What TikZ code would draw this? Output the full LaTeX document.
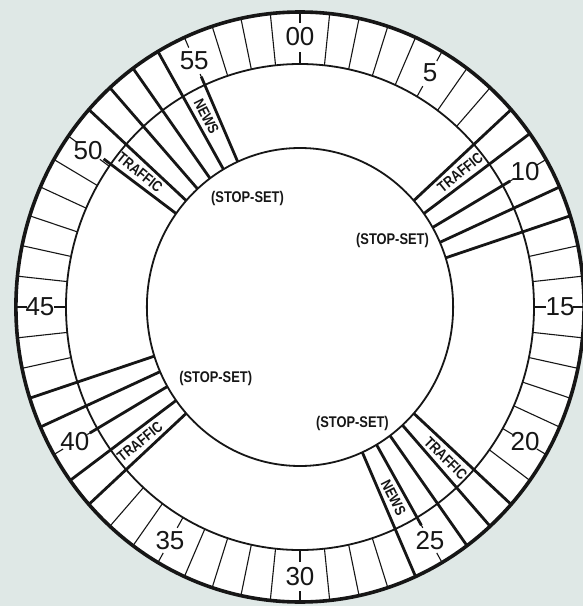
\documentclass[tikz,border=0pt]{standalone}
\usepackage{fontspec}
\setmainfont{Liberation Sans}
\newfontfamily\condfont[FakeStretch=0.83]{Liberation Sans}
\usepackage{tikz}
\usetikzlibrary{calc}
\definecolor{paper}{RGB}{223,232,230}
\definecolor{ink}{RGB}{22,22,22}

\begin{document}
\begin{tikzpicture}[x=0.963pt, y=1pt,
    rim/.style={draw=ink, line width=3.6pt},
    ring/.style={draw=ink, line width=1.8pt},
    tick/.style={draw=ink, line width=1.1pt},
    spot/.style={draw=ink, line width=2.8pt},
    minlab/.style={font=\fontsize{26}{26}\selectfont, text=ink, inner sep=0pt},
    slot/.style={font=\condfont\bfseries\fontsize{15}{15}\selectfont, text=ink, inner sep=0pt},
    stopset/.style={font=\condfont\bfseries\fontsize{15.5}{15.5}\selectfont, text=ink, inner sep=0pt}
  ]
  \useasboundingbox (-300pt,-299pt) rectangle (283pt,307pt);
  \fill[paper] (-300pt,-299pt) rectangle (283pt,307pt);
  \fill[white] (0,0) circle (295);

  % --- minute ticks in the outer band ---
  \foreach \m in {1,2,3,4,6,7,13,14,16,17,18,19,21,27,28,29,31,32,33,34,36,37,
                  43,44,46,47,48,49,50,57,58,59} {
      \draw[tick] ({90-6*\m}:243) -- ({90-6*\m}:295);
  }
  % labelled minutes (tick broken by the number)
  \foreach \m/\lab in {0/00, 5/5, 10/10, 15/15, 20/20, 25/25, 30/30, 35/35,
                       40/40, 45/45, 50.9/50, 56/55} {
      \draw[tick] ({90-6*\m}:284) -- ({90-6*\m}:295);
      \draw[tick] ({90-6*\m}:243) -- ({90-6*\m}:255);
      \node[minlab] (m\lab) at ({90-6*\m}:270) {\lab};
  }

  % --- stop-set spots ---
  \foreach \m in {8,9,11,12,22,23,24,26,38,39,41,42,52,53,54,55} {
      \draw[spot] ({90-6*\m}:159) -- ({90-6*\m}:295);
  }
  \foreach \m in {10,25,40,51,56} {
      \draw[spot] ({90-6*\m}:159) -- ({90-6*\m}:252);
  }

  % rings
  \draw[ring] (0,0) circle (159);
  \draw[ring] (0,0) circle (243);
  \draw[rim] (0,0) circle (295);

  % slot names
  \foreach \i/\m/\rot/\lab in {1/8.5/39/TRAFFIC, 2/22.5/-45/TRAFFIC, 3/38.5/39/TRAFFIC,
                               4/51.5/-39/TRAFFIC, 5/25.5/-63/NEWS, 6/55.5/-63/NEWS} {
      \node[slot, rotate=\rot] (slot\i) at ({90-6*\m}:214) {\lab};
  }

  % --- stop-set notes ---
  \node[stopset] (ss1) at (-52.5pt,109pt) {(STOP-SET)};
  \node[stopset] (ss2) at (92.5pt,67pt) {(STOP-SET)};
  \node[stopset] (ss3) at (-84.3pt,-71pt) {(STOP-SET)};
  \node[stopset] (ss4) at (52.4pt,-116pt) {(STOP-SET)};
\end{tikzpicture}
\end{document}
